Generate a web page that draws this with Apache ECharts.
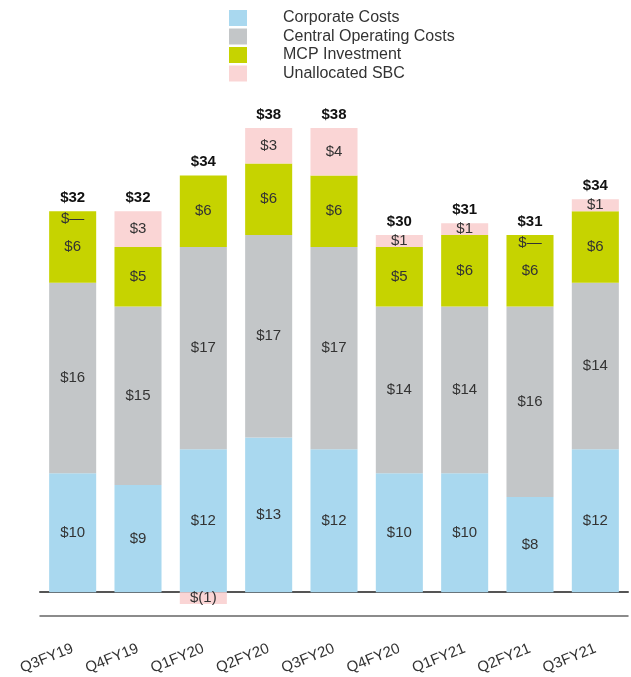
<!DOCTYPE html>
<html>
<head>
<meta charset="utf-8">
<script src="https://cdn.jsdelivr.net/npm/echarts@6/dist/echarts.min.js"></script>
<style>
  html, body { margin: 0; padding: 0; background: #fff; }
  #chart { width: 631px; height: 677px; }
</style>
</head>
<body>
<div id="chart"></div>
<script>
// Quarterly unallocated costs ($M), stacked by component
const quarters = ['Q3FY19', 'Q4FY19', 'Q1FY20', 'Q2FY20', 'Q3FY20', 'Q4FY20', 'Q1FY21', 'Q2FY21', 'Q3FY21'];
const corporateCosts = [10, 9, 12, 13, 12, 10, 10, 8, 12];
const centralOperatingCosts = [16, 15, 17, 17, 17, 14, 14, 16, 14];
const mcpInvestment = [6, 5, 6, 6, 6, 5, 6, 6, 6];
const unallocatedSbc = [0, 3, -1, 3, 4, 1, 1, 0, 1];
const totals = [32, 32, 34, 38, 38, 30, 31, 31, 34];

const FONT = 'Liberation Sans, Arial, sans-serif';

function money(v) {
  if (v === 0) return '$\u2014';
  if (v < 0) return '$(' + Math.abs(v) + ')';
  return '$' + v;
}

function segment(name, data, color) {
  return {
    name: name,
    type: 'bar',
    stack: 'cost',
    xAxisIndex: 0,
    barCategoryGap: '28%',
    data: data,
    itemStyle: { color: color },
    label: {
      show: true,
      position: 'inside',
      fontFamily: FONT,
      fontSize: 15,
      color: '#333',
      formatter: p => money(p.value)
    }
  };
}

const chart = echarts.init(document.getElementById('chart'), null, { renderer: 'canvas' });

chart.setOption({
  animation: false,
  backgroundColor: '#fff',
  legend: {
    orient: 'vertical',
    left: 224,
    top: 5,
    icon: 'rect',
    itemWidth: 18,
    itemHeight: 16,
    itemGap: 2.5,
    data: ['Corporate Costs', 'Central Operating Costs', 'MCP Investment', 'Unallocated SBC'],
    textStyle: { fontFamily: FONT, fontSize: 16, lineHeight: 16, color: '#333', padding: [0, 0, 0, 31] }
  },
  grid: { left: 40, right: 3, top: 116, bottom: 61, containLabel: false },
  xAxis: [
    {
      type: 'category',
      data: quarters,
      axisLine: { onZero: true, lineStyle: { color: '#555', width: 2 } },
      axisTick: { show: false },
      axisLabel: { show: false }
    },
    {
      type: 'category',
      data: quarters,
      position: 'bottom',
      axisLine: { onZero: false, lineStyle: { color: '#666', width: 1.5 } },
      axisTick: { show: false },
      axisLabel: {
        rotate: 22,
        margin: 32,
        fontFamily: FONT,
        fontSize: 15,
        color: '#333'
      }
    }
  ],
  yAxis: {
    type: 'value',
    min: -2,
    max: 40,
    show: false,
    splitLine: { show: false }
  },
  series: [
    segment('Corporate Costs', corporateCosts, '#a9d8ef'),
    segment('Central Operating Costs', centralOperatingCosts, '#c3c6c8'),
    segment('MCP Investment', mcpInvestment, '#c6d300'),
    Object.assign(segment('Unallocated SBC', [], '#fad5d5'), {
      // zero SBC shows "$—" just below the top of the stack
      data: unallocatedSbc.map(v => v === 0
        ? { value: v, label: { offset: [0, 8] } }
        : v)
    }),
    {
      // zero-height bar on top of the positive stack carrying the quarter total
      name: 'Total',
      type: 'bar',
      stack: 'cost',
      stackStrategy: 'positive',
      xAxisIndex: 0,
      data: totals.map(() => 0),
      itemStyle: { color: 'transparent' },
      silent: true,
      label: {
        show: true,
        position: 'top',
        distance: 6,
        fontFamily: FONT,
        fontSize: 15,
        fontWeight: 'bold',
        color: '#111',
        formatter: p => '$' + totals[p.dataIndex]
      }
    }
  ]
});
</script>
</body>
</html>
